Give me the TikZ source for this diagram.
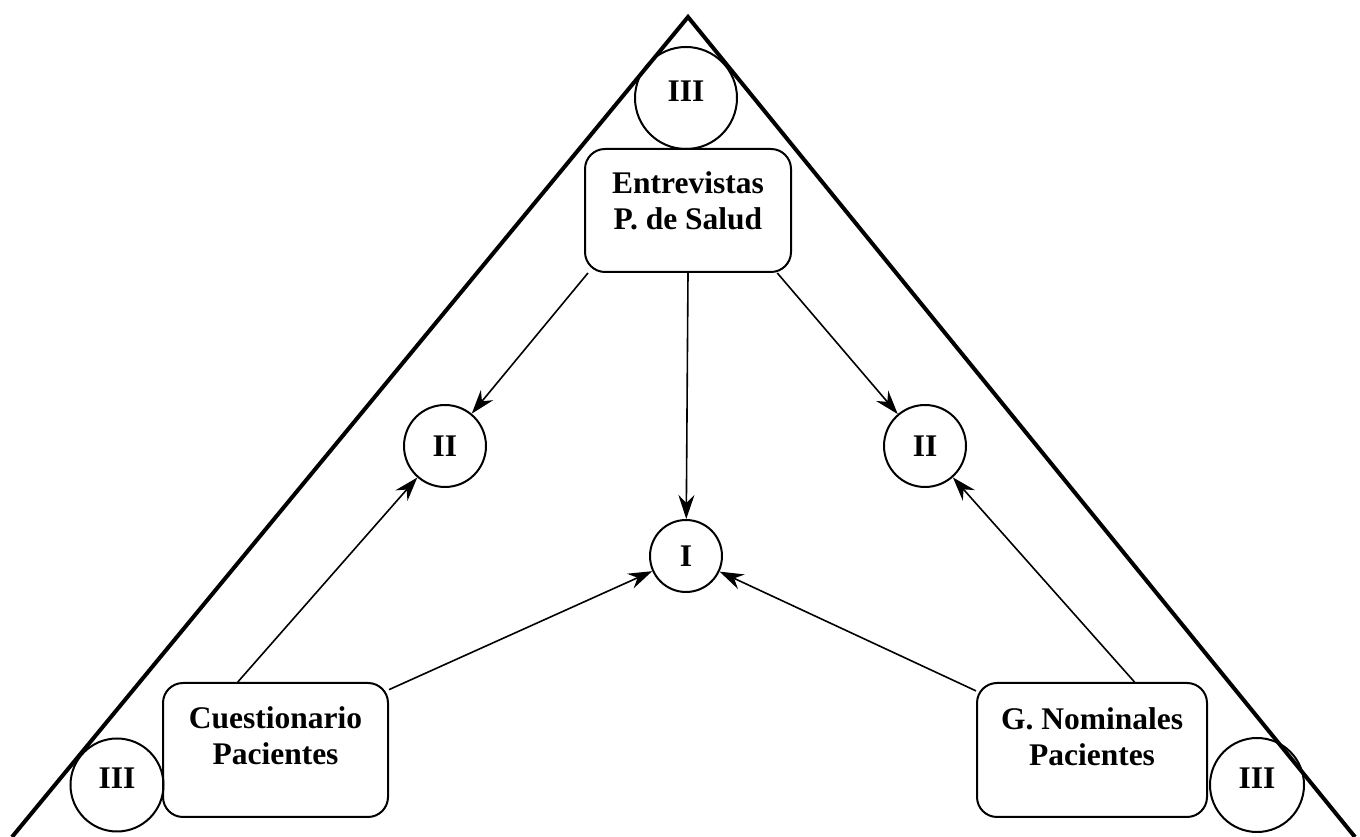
\documentclass[tikz,border=0pt]{standalone}
\usepackage{fontspec}
\setmainfont{Liberation Serif}
\usetikzlibrary{arrows.meta,positioning}

\begin{document}
\begin{tikzpicture}[x=1pt,y=1pt,
		caja/.style={draw, line width=2pt, rounded corners=20pt, inner sep=0pt},
		texto/.style={align=center, inner sep=0pt, font=\fontsize{31.5}{36}\selectfont\bfseries},
		circulo/.style={draw, circle, line width=2pt, inner sep=0pt, font=\fontsize{31.5}{36}\selectfont\bfseries},
		nivel/.style={circulo, text height=21pt, text depth=14pt},
		flecha/.style={-{Stealth[length=24pt,width=16pt,inset=8pt]}, line width=1.6pt}]
		\useasboundingbox (0,0) rectangle (1360,837);
		
		% triangulo
		\draw[line width=4pt] (12,0) -- (688,820) -- (1355,0);
		
		% cajas
		\node[caja, minimum width=206pt, minimum height=123pt] (ent) at (688,626.5) {};
		\node[texto] (tent) at ([yshift=10pt]ent.center) {Entrevistas\\P. de Salud};
		
		\node[caja, minimum width=225pt, minimum height=134pt] (cue) at (275.5,87) {};
		\node[texto] (tcue) at ([yshift=14pt]cue.center) {Cuestionario\\Pacientes};
		
		\node[caja, minimum width=230pt, minimum height=134pt] (gn) at (1092,87) {};
		\node[texto] (tgn) at ([yshift=13pt]gn.center) {G. Nominales\\Pacientes};
		
		% niveles
		\node[nivel, minimum size=102pt] (iiiarr) at (686,739) {III};
		\node[nivel, minimum size=93pt] (iiiizq) at (117,52) {III};
		\node[nivel, minimum size=94pt] (iiider) at (1257,52) {III};
		
		\node[circulo, minimum size=82pt] (iiizq) at (445,391) {II};
		\node[circulo, minimum size=82pt] (iider) at (925,391) {II};
		\node[circulo, minimum size=72pt] (i) at (686,281) {I};
		
		% flechas
		\draw[flecha] (ent.212) -- (iiizq);
		\draw[flecha] (ent.south) -- (i);
		\draw[flecha] (ent.-35) -- (iider);
		
		\draw[flecha] (cue.119) -- (iiizq);
		\draw[flecha] (cue.28) -- (i);
		
		\draw[flecha] (gn.153) -- (i);
		\draw[flecha] (gn.58) -- (iider);
		
\end{tikzpicture}
\end{document}
